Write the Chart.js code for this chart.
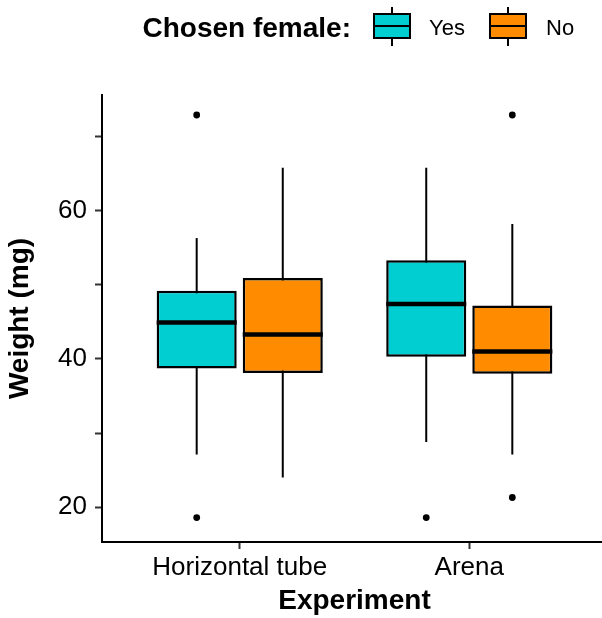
<!DOCTYPE html>
<html>
<head>
<meta charset="utf-8">
<script src="https://cdn.jsdelivr.net/npm/chart.js@4.4.1/dist/chart.umd.min.js"></script>
<style>
  html, body { margin: 0; padding: 0; overflow: hidden; background: #fff; width: 602px; height: 618px; }
  #wrap { position: relative; width: 608px; height: 618px; }
  #key { position: absolute; top: 0; left: 0; width: 602px; height: 60px; font-family: "Liberation Sans", Arial, sans-serif; color: #000; }
  #key .title { position: absolute; right: 251px; top: 9px; font-size: 28px; font-weight: bold; line-height: 38px; white-space: nowrap; }
  #key .lab { position: absolute; top: 13px; font-size: 22px; line-height: 30px; }
  #key .glyph { position: absolute; top: 7px; width: 38px; height: 39px; }
  #key .glyph::before { content: ""; position: absolute; left: 18px; top: 0; width: 2px; height: 39px; background: #000; }
  #key .glyph .box { position: absolute; left: 0; top: 6px; width: 38px; height: 26px; box-sizing: border-box; border: 2.5px solid #000; }
  #key .glyph .box::after { content: ""; position: absolute; left: 0; right: 0; top: 9.5px; height: 2px; background: #000; }
</style>
</head>
<body>
<div id="wrap">
  <canvas id="chart" width="608" height="618"></canvas>
  <div id="key">
    <span class="title">Chosen female:</span>
    <div class="glyph" style="left:373px"><div class="box" style="background:#00CED1"></div></div>
    <span class="lab" style="left:429px">Yes</span>
    <div class="glyph" style="left:489px"><div class="box" style="background:#FF8C00"></div></div>
    <span class="lab" style="left:546px">No</span>
  </div>
</div>
<script>
var experiments = ['Horizontal tube', 'Arena'];

// box summaries, one entry per experiment
var yesLow = [27.1, 28.8];
var yesQ1 = [38.7, 40.3];
var yesMedian = [44.9, 47.4];
var yesQ3 = [49.2, 53.3];
var yesHigh = [56.3, 65.8];
var yesOutliers = [[72.9, 18.6], [18.6]];

var noLow = [24.0, 27.1];
var noQ1 = [38.1, 38.0];
var noMedian = [43.3, 41.0];
var noQ3 = [50.9, 47.2];
var noHigh = [65.8, 58.2];
var noOutliers = [[], [72.9, 21.3]];

var yTicks = [20, 30, 40, 50, 60, 70];
var yLabelled = [20, 40, 60];

var family = "'Liberation Sans', Arial, sans-serif";

function boxes(q1, q3) {
  return experiments.map(function(e, i) { return {x: i + 1, y: [q1[i], q3[i]]}; });
}

// whiskers go under the boxes, medians and outlier dots on top
var boxplotParts = {
  id: 'boxplotParts',
  beforeDatasetsDraw: function(chart) {
    var ctx = chart.ctx, y = chart.scales.y;
    ctx.save();
    ctx.strokeStyle = '#000';
    ctx.lineWidth = 2;
    chart.data.datasets.forEach(function(ds, d) {
      chart.getDatasetMeta(d).data.forEach(function(bar, i) {
        ctx.beginPath();
        ctx.moveTo(bar.x, y.getPixelForValue(ds.stats.low[i]));
        ctx.lineTo(bar.x, y.getPixelForValue(ds.stats.high[i]));
        ctx.stroke();
      });
    });
    ctx.restore();
  },
  afterDatasetsDraw: function(chart) {
    var ctx = chart.ctx, y = chart.scales.y;
    ctx.save();
    ctx.strokeStyle = '#000';
    ctx.fillStyle = '#000';
    chart.data.datasets.forEach(function(ds, d) {
      chart.getDatasetMeta(d).data.forEach(function(bar, i) {
        var my = y.getPixelForValue(ds.stats.median[i]);
        ctx.lineWidth = 4.5;
        ctx.beginPath();
        ctx.moveTo(bar.x - bar.width / 2, my);
        ctx.lineTo(bar.x + bar.width / 2, my);
        ctx.stroke();
        ds.stats.outliers[i].forEach(function(v) {
          ctx.beginPath();
          ctx.arc(bar.x, y.getPixelForValue(v), 3.4, 0, Math.PI * 2);
          ctx.fill();
        });
      });
    });
    ctx.restore();
  }
};

var ctx = document.getElementById('chart').getContext('2d');
new Chart(ctx, {
  type: 'bar',
  data: {
    datasets: [
      {
        label: 'Yes',
        data: boxes(yesQ1, yesQ3),
        backgroundColor: '#00CED1',
        stats: {low: yesLow, median: yesMedian, high: yesHigh, outliers: yesOutliers}
      },
      {
        label: 'No',
        data: boxes(noQ1, noQ3),
        backgroundColor: '#FF8C00',
        stats: {low: noLow, median: noMedian, high: noHigh, outliers: noOutliers}
      }
    ]
  },
  options: {
    responsive: false,
    animation: false,
    categoryPercentage: 0.75,
    barPercentage: 0.93,
    borderColor: '#000',
    borderWidth: 2.5,
    borderSkipped: false,
    layout: { padding: { top: 95, left: 0, right: 1, bottom: 0 } },
    plugins: { legend: { display: false }, tooltip: { enabled: false } },
    scales: {
      x: {
        type: 'linear',
        min: 0.4,
        max: 2.6,
        offset: false,
        afterBuildTicks: function(s) { s.ticks = experiments.map(function(e, i) { return {value: i + 1}; }); },
        afterFit: function(s) { s.height = 76; },
        border: { display: true, color: '#000', width: 2 },
        grid: { offset: false, drawOnChartArea: false, drawTicks: true, tickLength: 7, tickColor: '#333', tickWidth: 2 },
        ticks: {
          padding: 3,
          color: '#000',
          font: { family: family, size: 26 },
          callback: function(v) { return experiments[v - 1]; }
        },
        title: {
          display: true,
          text: 'Experiment',
          color: '#000',
          font: { family: family, size: 28, weight: 'bold' },
          padding: { top: 0, bottom: 0 }
        }
      },
      y: {
        min: 15.3,
        max: 75.6,
        afterBuildTicks: function(s) { s.ticks = yTicks.map(function(v) { return {value: v}; }); },
        afterFit: function(s) { s.width = 102; },
        border: { display: true, color: '#000', width: 2 },
        grid: { drawOnChartArea: false, drawTicks: true, tickLength: 7, tickColor: '#333', tickWidth: 2 },
        ticks: {
          padding: 8,
          color: '#000',
          font: { family: family, size: 26 },
          callback: function(v) { return yLabelled.indexOf(v) >= 0 ? String(v) : ''; }
        },
        title: {
          display: true,
          text: 'Weight (mg)',
          color: '#000',
          font: { family: family, size: 28, weight: 'bold' },
          padding: { top: 3, bottom: 0 }
        }
      }
    }
  },
  plugins: [boxplotParts]
});
</script>
</body>
</html>
